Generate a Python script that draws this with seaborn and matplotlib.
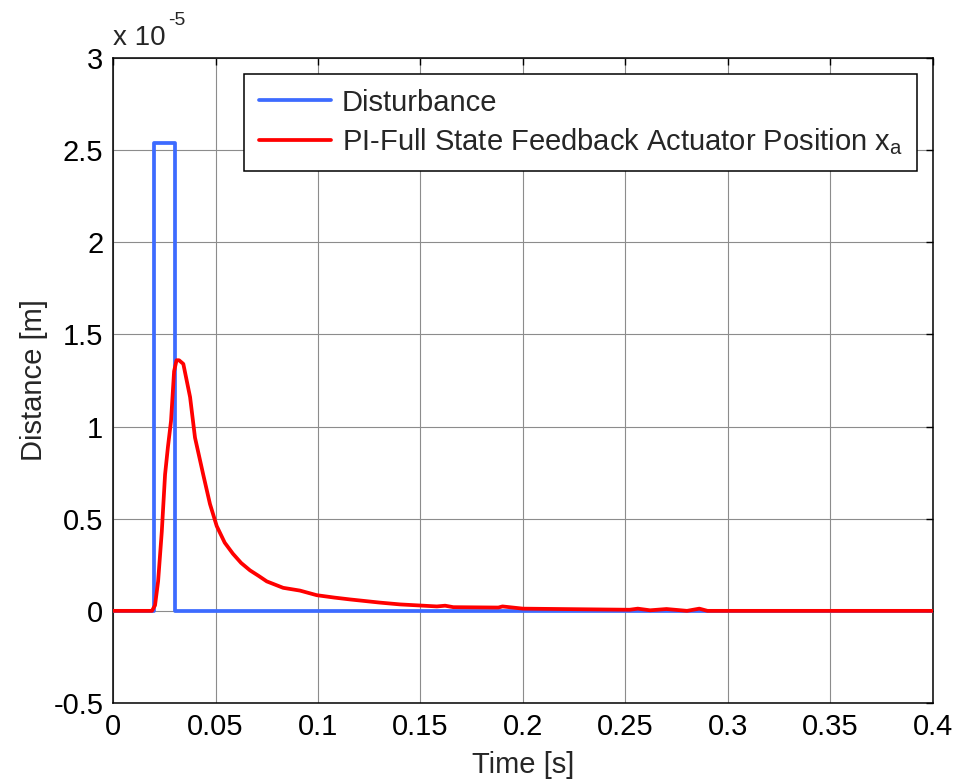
import matplotlib
matplotlib.use("Agg")
import matplotlib.pyplot as plt
import matplotlib.ticker as mticker
import seaborn as sns
import pandas as pd

# Disturbance pulse: time [s] and distance [m]
dist_time = [0.0, 0.02, 0.02, 0.03, 0.03, 0.4]
dist_value = [0.0, 0.0, 2.54e-5, 2.54e-5, 0.0, 0.0]

# PI full state feedback actuator position x_a: time [s], distance in units of 1e-5 m
act_time = [0.0, 0.019, 0.0205, 0.022, 0.0238, 0.0254, 0.0268, 0.0283, 0.0298,
            0.031, 0.0322, 0.0343, 0.0376, 0.0400, 0.044, 0.0473, 0.0506,
            0.0545, 0.0585, 0.0625, 0.0668, 0.071, 0.075, 0.083, 0.0912, 0.0994,
            0.108, 0.1156, 0.13, 0.14, 0.158, 0.162, 0.166, 0.188, 0.19, 0.2, 0.252,
            0.256, 0.262, 0.27, 0.28, 0.286, 0.29, 0.4]
act_value_e5 = [0.0, 0.0, 0.03, 0.16, 0.43, 0.74, 0.89, 1.03, 1.30,
                1.36, 1.36, 1.34, 1.16, 0.94, 0.74, 0.58, 0.46,
                0.37, 0.31, 0.26, 0.22, 0.19, 0.16, 0.125, 0.11, 0.085,
                0.072, 0.062, 0.045, 0.035, 0.024, 0.028, 0.02, 0.018, 0.024, 0.012, 0.006,
                0.012, 0.003, 0.01, 0.0, 0.012, 0.0, 0.0]
act_value = [v * 1e-5 for v in act_value_e5]

x_ticks = [0, 0.05, 0.1, 0.15, 0.2, 0.25, 0.3, 0.35, 0.4]
y_ticks_e5 = [-0.5, 0, 0.5, 1, 1.5, 2, 2.5, 3]

sns.set_style("white")
plt.rcParams["font.family"] = ["Liberation Sans", "DejaVu Sans"]
plt.rcParams["mathtext.fontset"] = "custom"
plt.rcParams["mathtext.rm"] = "Liberation Sans"
plt.rcParams["mathtext.it"] = "Liberation Sans"

W, H = 956, 783
fig = plt.figure(figsize=(W / 100, H / 100), dpi=100)
ax = fig.add_axes([113 / W, 1 - 703 / H, 820 / W, 645 / H])

dist_df = pd.DataFrame({"t": dist_time, "d": dist_value})
act_df = pd.DataFrame({"t": act_time, "d": act_value})

sns.lineplot(data=dist_df, x="t", y="d", ax=ax, estimator=None, sort=False,
             color="#3D6BFF", linewidth=2.7, label="Disturbance", zorder=3)
sns.lineplot(data=act_df, x="t", y="d", ax=ax, estimator=None, sort=False,
             color="#FF0000", linewidth=2.7,
             label="PI-Full State Feedback Actuator Position x$_{\\mathrm{a}}$",
             zorder=4)

ax.set_xlim(0, 0.4)
ax.set_ylim(-0.5e-5, 3e-5)
ax.set_xticks(x_ticks)
ax.set_yticks([v * 1e-5 for v in y_ticks_e5])
ax.xaxis.set_major_formatter(mticker.FuncFormatter(lambda v, p: f"{v:g}"))
ax.yaxis.set_major_formatter(mticker.FuncFormatter(lambda v, p: f"{round(v / 1e-5, 2):g}"))

ax.grid(True, color="#8c8c8c", linewidth=0.8, linestyle="-")
ax.tick_params(direction="in", length=5, width=1, top=True, right=True,
               labelsize=21, colors="black", pad=7)
for sp in ax.spines.values():
    sp.set_color("black")
    sp.set_linewidth(1.1)

ax.set_xlabel("Time [s]", fontsize=21)
ax.set_ylabel("Distance [m]", fontsize=21)
ax.xaxis.set_label_coords(0.5, -0.075)
ax.yaxis.set_label_coords(-0.079, 0.5)

# exponent of the y axis scale
fig.text(113 / W, 1 - 45 / H, "x 10", fontsize=20, ha="left", va="baseline")
fig.text(168 / W, 1 - 25 / H, "-5", fontsize=14, ha="left", va="baseline")

leg = ax.legend(loc="upper right", bbox_to_anchor=(0.9805, 0.9752), fontsize=21,
                frameon=True, fancybox=False, framealpha=1, edgecolor="black",
                handlelength=2.5, handletextpad=0.35, borderpad=0.5,
                labelspacing=0.32, borderaxespad=0)
leg.get_frame().set_linewidth(1.1)

fig.savefig("out.png", dpi=100)
